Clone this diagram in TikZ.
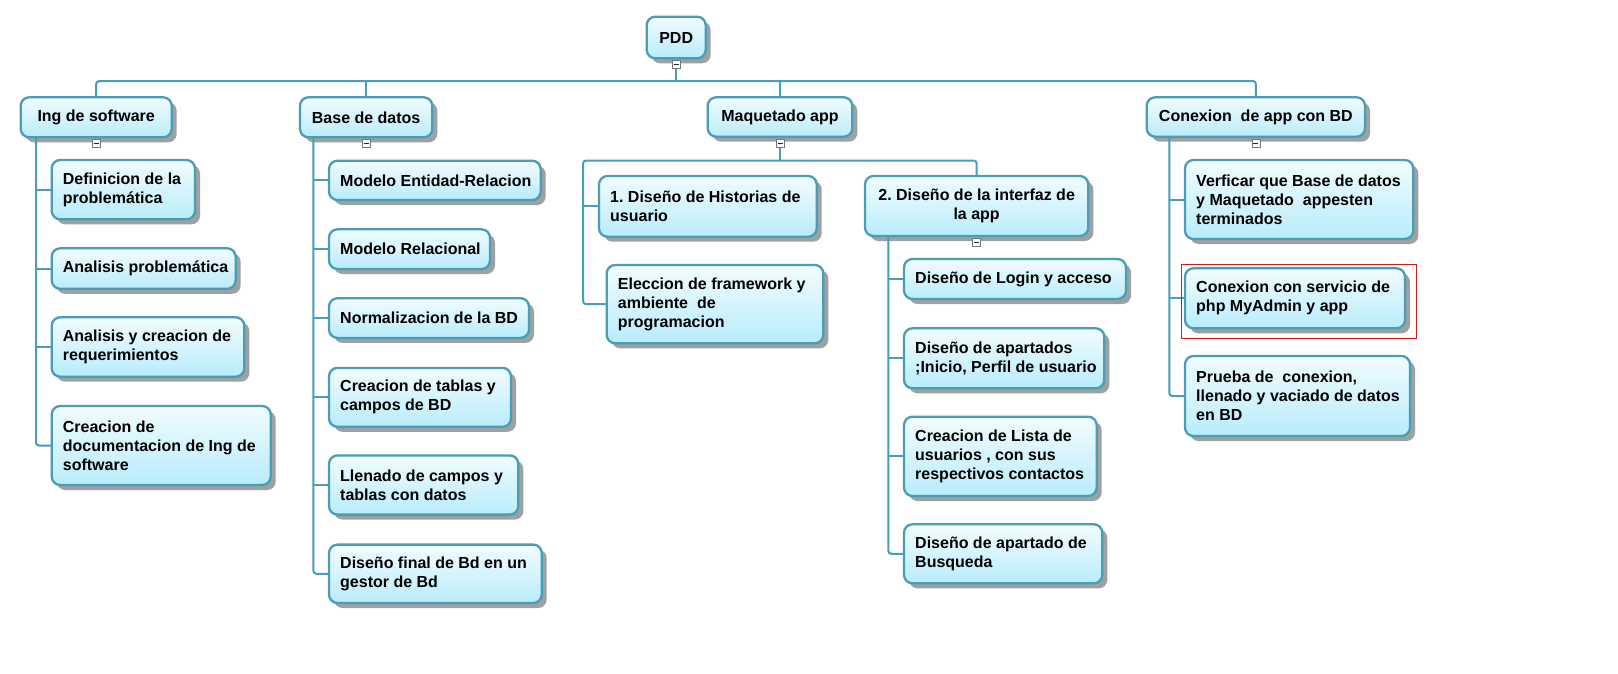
\documentclass[tikz,border=0pt]{standalone}
\usepackage{fontspec}
\setmainfont{Liberation Sans}
\frenchspacing
\usetikzlibrary{shadows}
\definecolor{edgec}{RGB}{72,158,182}
\definecolor{topc}{RGB}{242,252,255}
\definecolor{botc}{RGB}{184,236,251}
\definecolor{shc}{RGB}{160,160,160}
\definecolor{redc}{RGB}{200,30,30}
\definecolor{mkc}{RGB}{120,120,120}
\tikzset{
 wb/.style={rectangle, rounded corners=8.5pt, draw=edgec, line width=2.3pt, top color=topc, bottom color=botc, inner sep=0pt, outer sep=0pt,
   drop shadow={shadow xshift=5pt, shadow yshift=-5pt, fill=shc, opacity=1}},
 wt/.style={inner sep=0pt, align=left, font=\fontsize{16pt}{19pt}\selectfont\bfseries\frenchspacing},
 wtc/.style={inner sep=0pt, align=center, font=\fontsize{16pt}{19pt}\selectfont\bfseries\frenchspacing},
 conn/.style={draw=edgec, line width=2pt, rounded corners=3pt},
 mkbox/.style={rectangle, draw=mkc, fill=white, line width=0.7pt, minimum size=8pt, inner sep=0pt, outer sep=0pt,
   path picture={\draw[line width=1pt, black!85] ([xshift=-2.5pt]path picture bounding box.center) -- ([xshift=2.5pt]path picture bounding box.center);}}
}
% name, x, y, w, h, text (left aligned)
\newcommand{\mybox}[6]{%
 \node[wb, minimum width=#4pt, minimum height=#5pt, anchor=north west] (#1) at (#2,#3) {};
 \node[wt, anchor=west] (#1t) at ([xshift=11pt]#1.west) {#6};}
% name, x, y, w, h, text (centred)
\newcommand{\mycbox}[6]{%
 \node[wb, minimum width=#4pt, minimum height=#5pt, anchor=north west] (#1) at (#2,#3) {};
 \node[wtc] (#1t) at (#1.center) {#6};}
\begin{document}
\begin{tikzpicture}[x=1pt,y=-1pt]
\useasboundingbox (0,0) rectangle (1618,673);
\fill[white] (0,0) rectangle (1618,673);

% top level
\mycbox{pdd}{646.7}{16.7}{59}{41.6}{PDD}
\mycbox{ing}{20.7}{97.3}{151}{40}{Ing de software}
\mycbox{bd}{300}{97.3}{132.3}{40}{Base de datos}
\mycbox{maq}{707.7}{97.3}{144.6}{39.4}{Maquetado app}
\mycbox{con}{1146.7}{97.3}{218.3}{39.4}{Conexion\ \ de app con BD}

% Ing de software children
\mybox{def}{51.7}{160}{143.3}{59.3}{Definicion de la\\problemática}
\mybox{ap}{51.7}{248.3}{184}{40.5}{Analisis problemática}
\mybox{ayc}{51.7}{317.3}{192.6}{59.4}{Analisis y creacion de\\requerimientos}
\mybox{cdd}{51.7}{406}{219}{79}{Creacion de\\documentacion de Ing de\\software}

% Base de datos children
\mybox{mer}{329}{160.7}{211.7}{39.3}{Modelo Entidad-Relacion}
\mybox{mr}{329}{229.3}{161}{39.7}{Modelo Relacional}
\mybox{nor}{329}{298.2}{200}{39.7}{Normalizacion de la BD}
\mybox{ct}{329}{367.9}{182}{58.9}{Creacion de tablas y\\campos de BD}
\mybox{ll}{329}{455.4}{189.3}{59.2}{Llenado de campos y\\tablas con datos}
\mybox{df}{329}{544.6}{212.7}{58.4}{Diseño final de Bd en un\\gestor de Bd}

% Maquetado children
\mybox{h1}{599}{176}{217.7}{60.7}{1. Diseño de Historias de\\usuario}
\mybox{el}{606.7}{265}{216.6}{78.3}{Eleccion de framework y\\ambiente\ \ de\\programacion}
\mycbox{d2}{865}{176}{223.3}{60}{2. Diseño de la interfaz de\\la app}

% 2. Diseño children
\mybox{login}{904}{259}{222}{40}{Diseño de Login y acceso}
\mybox{apt}{904}{328.3}{200.3}{60}{Diseño de apartados\\;Inicio, Perfil de usuario}
\mybox{lista}{904}{416.7}{192.7}{79.3}{Creacion de Lista de\\usuarios , con sus\\respectivos contactos}
\mybox{busq}{904}{524.3}{198.3}{59}{Diseño de apartado de\\Busqueda}

% Conexion children
\mybox{ver}{1185}{160}{228.3}{79}{Verficar que Base de datos\\y Maquetado\ \ appesten\\terminados}
\mybox{srv}{1185}{268.3}{220}{60}{Conexion con servicio de\\php MyAdmin y app}
\mybox{pru}{1185}{356}{225}{80}{Prueba de\ \ conexion,\\llenado y vaciado de datos\\en BD}

% collapse markers
\node[mkbox] (pddmk) at ([yshift=-6pt]pdd.south) {};
\node[mkbox] (ingmk) at ([yshift=-6pt]ing.south) {};
\node[mkbox] (bdmk) at ([yshift=-6pt]bd.south) {};
\node[mkbox] (maqmk) at ([yshift=-6.5pt]maq.south) {};
\node[mkbox] (d2mk) at ([yshift=-6.5pt]d2.south) {};
\node[mkbox] (conmk) at ([yshift=-6.5pt]con.south) {};

% connectors
\coordinate (bus) at (676.2,81);
\draw[conn] (ing.north) |- (bus) -| (con.north);
\draw[conn] (pddmk.south) -- (bus);
\draw[conn] (bd.north) -- (bd.north |- bus);
\draw[conn] (maq.north) -- (maq.north |- bus);

\coordinate (ingsp) at (36,137.3);
\draw[conn] (ingsp) |- (cdd.west);
\foreach \n in {def,ap,ayc} \draw[conn] (ingsp |- \n.west) -- (\n.west);

\coordinate (bdsp) at (313.3,137.3);
\draw[conn] (bdsp) |- (df.west);
\foreach \n in {mer,mr,nor,ct,ll} \draw[conn] (bdsp |- \n.west) -- (\n.west);

\coordinate (mql) at (583,160.5);
\draw[conn] (el.west) -| (mql) -| (d2.north);
\draw[conn] (mql |- h1.west) -- (h1.west);
\draw[conn] (maqmk.south) -- (maqmk.south |- mql);

\coordinate (d2sp) at (888.3,236);
\draw[conn] (d2sp) |- (busq.west);
\foreach \n in {login,apt,lista} \draw[conn] (d2sp |- \n.west) -- (\n.west);

\coordinate (consp) at (1169.3,136.7);
\draw[conn] (consp) |- (pru.west);
\foreach \n in {ver,srv} \draw[conn] (consp |- \n.west) -- (\n.west);

% redraw markers on top
\foreach \m in {pddmk,ingmk,bdmk,maqmk,d2mk,conmk} \node[mkbox] at (\m.center) {};

% highlight frame
\draw[redc, line width=1pt] (1181.3,264.3) rectangle (1416.7,338.3);
\end{tikzpicture}
\end{document}
